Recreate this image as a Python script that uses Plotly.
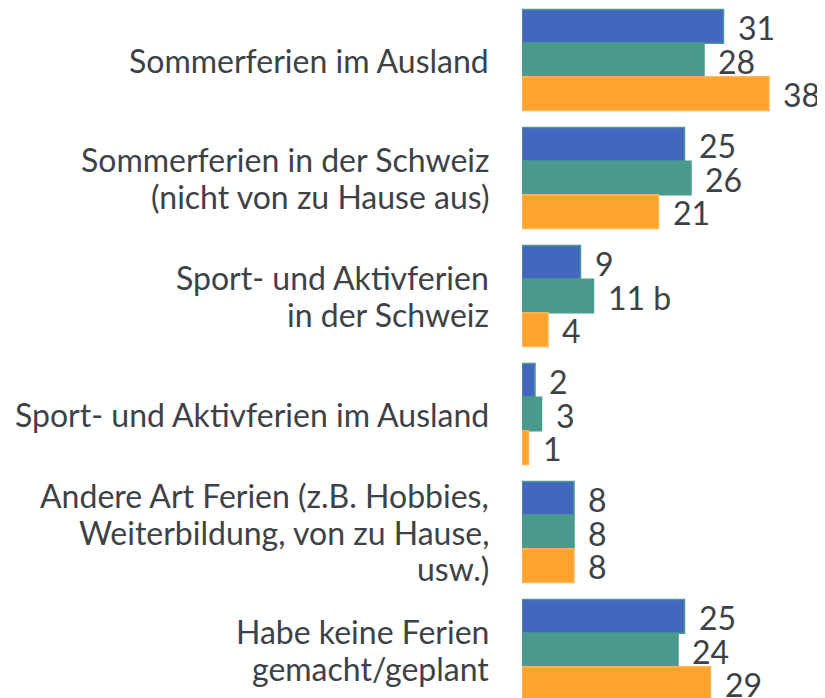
import plotly.graph_objects as go

categories = [
    "Sommerferien im Ausland",
    "Sommerferien in der Schweiz<br>(nicht von zu Hause aus)",
    "Sport- und Aktivferien<br>in der Schweiz",
    "Sport- und Aktivferien im Ausland",
    "Andere Art Ferien (z.B. Hobbies,<br>Weiterbildung, von zu Hause,<br>usw.)",
    "Habe keine Ferien<br>gemacht/geplant",
]
series_blue = [31, 25, 9, 2, 8, 25]
series_teal = [28, 26, 11, 3, 8, 24]
series_orange = [38, 21, 4, 1, 8, 29]
teal_labels = ["28", "26", "11 b", "3", "8", "24"]

colors = ["#4366BF", "#4A9A8E", "#FFA32F"]
lines = ["#4A9A8E", "#4A9A8E", "#FFB550"]
text_color = "#3D4247"
font = "Lato"
fsize = 32
line_h = 36.5

# page body has an 8px margin; figure is drawn at (8, 8)
OFF = 8
W, H = 825, 698
left = 522 - OFF
center0 = 60 - OFF
step = 118.0
px_per_unit = 6.5

idx = list(range(len(categories)))
series = [series_blue, series_teal, series_orange]
labels = [[str(v) for v in series_blue], teal_labels, [str(v) for v in series_orange]]

fig = go.Figure()
for s, c, lc in zip(series, colors, lines):
    fig.add_trace(go.Bar(
        y=idx, x=s, orientation="h",
        marker=dict(color=c, line=dict(color=lc, width=1.5)),
        hoverinfo="skip",
    ))

annotations = []
bar_px = 101 / 3.0
for k, (s, labs) in enumerate(zip(series, labels)):
    for i, (v, t) in enumerate(zip(s, labs)):
        annotations.append(dict(
            x=v, y=i, xref="x", yref="y", text=t, showarrow=False,
            xanchor="left", yanchor="middle", xshift=12,
            yshift=-(k - 1) * bar_px - 1,
            font=dict(family=font, size=fsize, color=text_color),
        ))
for i, cat in enumerate(categories):
    parts = cat.split("<br>")
    n = len(parts)
    for j, p in enumerate(parts):
        annotations.append(dict(
            x=0, y=i, xref="paper", yref="y", text=p, showarrow=False,
            xanchor="right", yanchor="middle", align="right", xshift=-31,
            yshift=-(j - (n - 1) / 2) * line_h,
            font=dict(family=font, size=fsize, color=text_color),
        ))

fig.update_layout(
    width=W, height=H,
    margin=dict(l=left, r=0, t=0, b=0),
    barmode="group", bargap=0.144, bargroupgap=0,
    showlegend=False,
    plot_bgcolor="white", paper_bgcolor="white",
    xaxis=dict(range=[0, (W - left) / px_per_unit], visible=False, fixedrange=True),
    yaxis=dict(range=[(H - center0) / step, -center0 / step], visible=False, fixedrange=True),
    annotations=annotations,
)

fig.write_html("out.html")
